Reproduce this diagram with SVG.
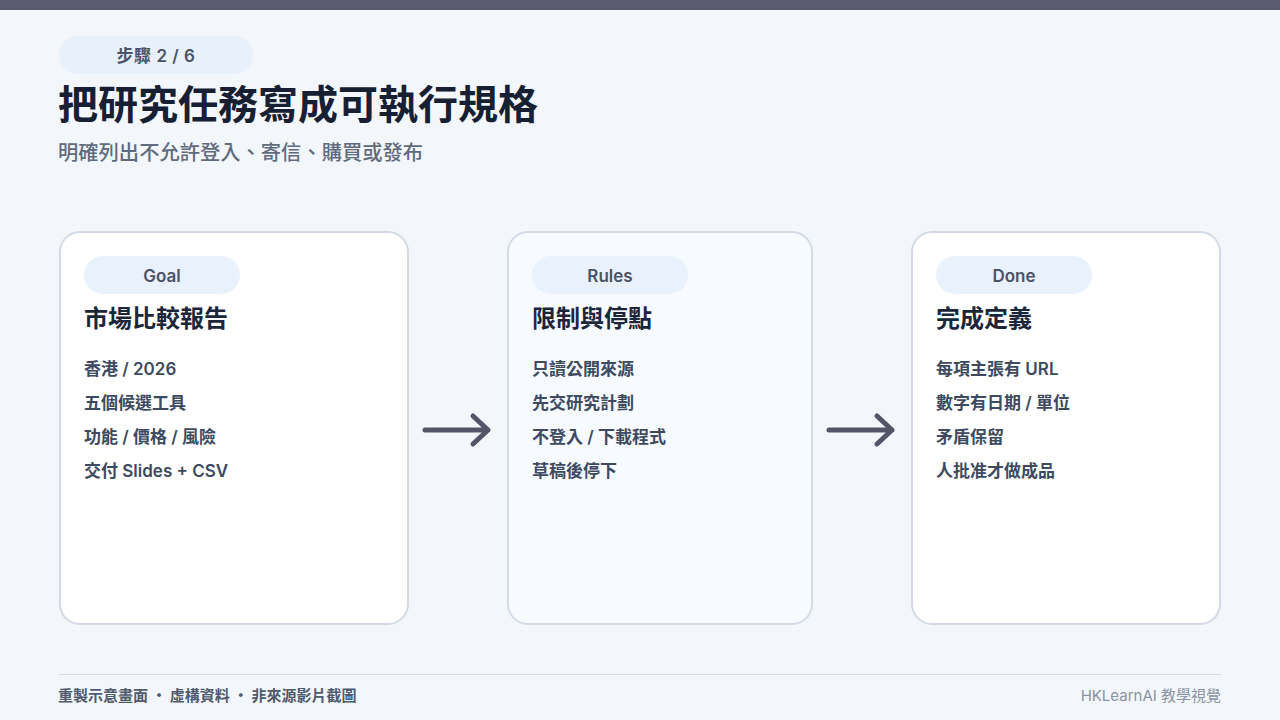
<svg xmlns="http://www.w3.org/2000/svg" width="1280" height="720" viewBox="0 0 1280 720">
<style>
.t{font-family:Inter,"Noto Sans CJK TC","Noto Sans",sans-serif}
.c{font-family:"Noto Sans CJK TC","Noto Sans",sans-serif}
.card{stroke:#d3dae6;stroke-width:2}
.pill{fill:#e9f1fc}
.pilltxt{font-size:17px;font-weight:600;fill:#4a5368;text-anchor:middle}
.head{font-size:24px;font-weight:700;fill:#1c263a}
.item{font-size:17px;font-weight:600;fill:#3d4a60}
.arrow{fill:none;stroke:#555468;stroke-width:5;stroke-linecap:round;stroke-linejoin:round}
</style>
<rect width="1280" height="720" fill="#f3f6fa"/>
<rect width="1280" height="10" fill="#5b5a70"/>
<g id="header">
<rect x="59" y="36" width="194" height="38" rx="19" fill="#e8f0fb"/>
<text class="t" x="156" y="62" font-size="17" font-weight="600" fill="#4a5368" text-anchor="middle" letter-spacing="0.5">步驟 2 / 6</text>
<text class="t" x="58" y="119" font-size="40" font-weight="700" fill="#172033">把研究任務寫成可執行規格</text>
<text class="t" x="58" y="160" font-size="20.3" font-weight="500" fill="#5f6b7e">明確列出不允許登入、寄信、購買或發布</text>
</g>
<g id="goal">
<rect class="card" x="60" y="232" width="348" height="392" rx="20" fill="#ffffff"/>
<rect class="pill" x="84" y="256" width="156" height="38" rx="19"/>
<text class="t pilltxt" x="162" y="282">Goal</text>
<text class="t head" x="84" y="327">市場比較報告</text>
<text class="t item" x="84" y="375">香港 / 2026</text>
<text class="t item" x="84" y="409">五個候選工具</text>
<text class="t item" x="84" y="443">功能 / 價格 / 風險</text>
<text class="t item" x="84" y="477">交付 Slides + CSV</text>
</g>
<g id="rules">
<rect class="card" x="508" y="232" width="304" height="392" rx="20" fill="#f7faff"/>
<rect class="pill" x="532" y="256" width="156" height="38" rx="19"/>
<text class="t pilltxt" x="610" y="282">Rules</text>
<text class="t head" x="532" y="327">限制與停點</text>
<text class="t item" x="532" y="375">只讀公開來源</text>
<text class="t item" x="532" y="409">先交研究計劃</text>
<text class="t item" x="532" y="443">不登入 / 下載程式</text>
<text class="t item" x="532" y="477">草稿後停下</text>
</g>
<g id="done">
<rect class="card" x="912" y="232" width="308" height="392" rx="20" fill="#ffffff"/>
<rect class="pill" x="936" y="256" width="156" height="38" rx="19"/>
<text class="t pilltxt" x="1014" y="282">Done</text>
<text class="t head" x="936" y="327">完成定義</text>
<text class="t item" x="936" y="375">每項主張有 URL</text>
<text class="t item" x="936" y="409">數字有日期 / 單位</text>
<text class="t item" x="936" y="443">矛盾保留</text>
<text class="t item" x="936" y="477">人批准才做成品</text>
</g>
<g id="connectors">
<path class="arrow" d="M425 430 H488 M473 416 L488 430 L473 444"/>
<path class="arrow" d="M829 430 H892 M877 416 L892 430 L877 444"/>
</g>
<g id="footer">
<line x1="59" y1="674.5" x2="1221" y2="674.5" stroke="#d6dce6" stroke-width="1"/>
<text class="c" x="58" y="701" font-size="15" font-weight="600" fill="#4f5a6e">重製示意畫面 · 虛構資料 · 非來源影片截圖</text>
<text class="t" x="1221" y="701" font-size="15" fill="#8a93a3" text-anchor="end">HKLearnAI 教學視覺</text>
</g>
</svg>
